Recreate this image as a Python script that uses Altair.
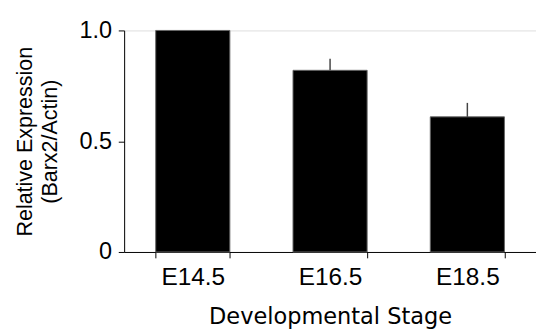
import altair as alt
import pandas as pd

stages = ["E14.5", "E16.5", "E18.5"]
means = [1.0, 0.82, 0.61]
upper = [1.0, 0.872, 0.673]

df = pd.DataFrame({"stage": stages, "mean": means, "upper": upper})

FONT = "Liberation Sans"

xscale = alt.Scale(domain=stages, paddingInner=0.46, paddingOuter=0.23)
yscale = alt.Scale(domain=[0, 1], nice=False)

x_enc = alt.X(
    "stage:N",
    scale=xscale,
    sort=stages,
    axis=alt.Axis(
        title="Developmental Stage",
        tickBand="extent",
        labelAngle=0,
        labelFontSize=25,
        labelFont=FONT,
        labelColor="black",
        labelPadding=7,
        tickSize=6,
        tickColor="black",
        domainColor="black",
        titleFont="DejaVu Sans",
        titleFontSize=23,
        titleFontWeight="normal",
        titleColor="black",
        titlePadding=17,
        grid=False,
    ),
)

y_enc = alt.Y(
    "mean:Q",
    scale=yscale,
    axis=alt.Axis(
        title=["Relative Expression", "(Barx2/Actin)"],
        values=[0, 0.5, 1.0],
        labelExpr="datum.value == 0 ? '0' : format(datum.value, '.1f')",
        labelFontSize=24,
        labelFont=FONT,
        labelColor="black",
        labelPadding=7,
        tickSize=6,
        tickColor="black",
        domainColor="black",
        titleFont=FONT,
        titleFontSize=22,
        titleFontWeight="normal",
        titleColor="black",
        titleLineHeight=26,
        titlePadding=18,
        grid=False,
    ),
)

bars = alt.Chart(df).mark_bar(color="black", stroke="#666666", strokeWidth=1).encode(
    x=x_enc, y=y_enc
)

errs = alt.Chart(df).mark_rule(color="#444444", strokeWidth=1.5).encode(
    x=alt.X("stage:N", scale=xscale, sort=stages),
    y=alt.Y("mean:Q", scale=yscale),
    y2="upper:Q",
)

chart = (
    alt.layer(bars, errs)
    .properties(
        width=422,
        height=227,
        autosize=alt.AutoSizeParams(type="none"),
        padding={"left": 119, "top": 19, "right": 0, "bottom": 79},
    )
    .configure_view(stroke=None)
    .configure(background="white")
)

chart.save("out.html", embed_options={"renderer": "svg", "actions": False})
